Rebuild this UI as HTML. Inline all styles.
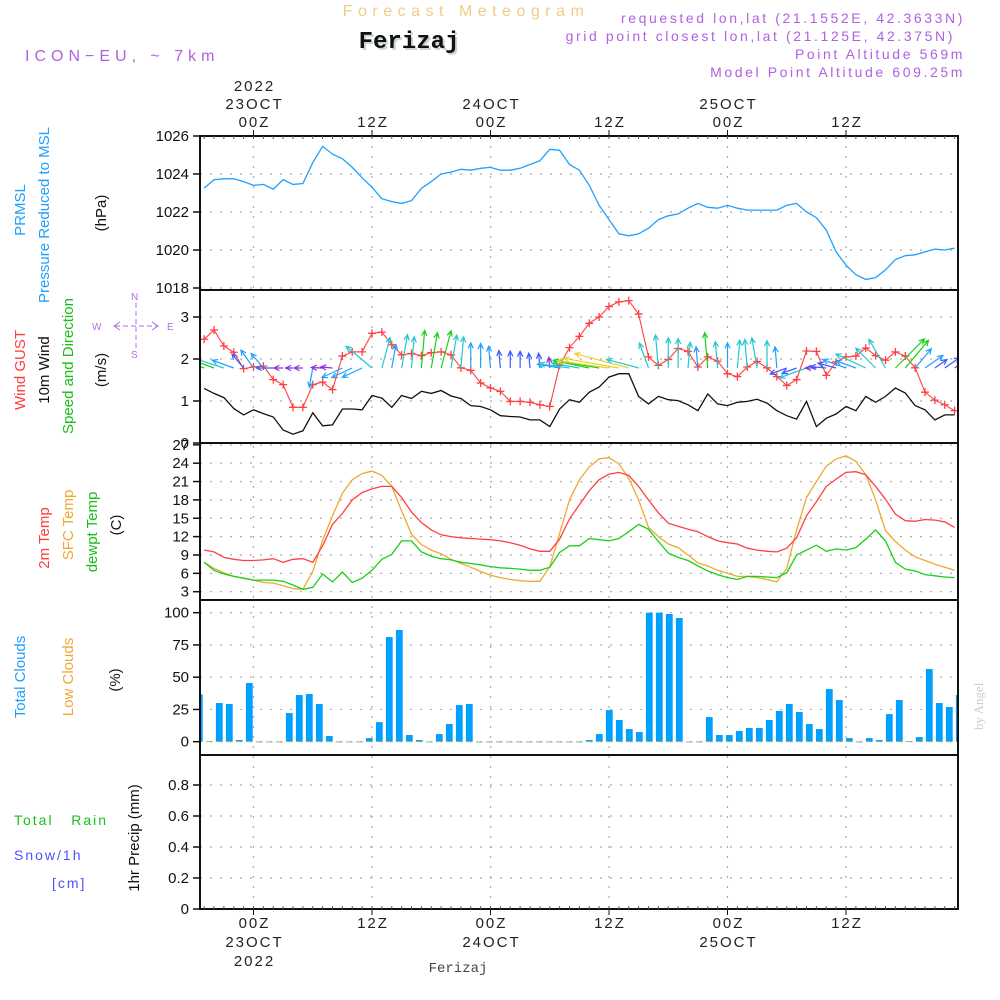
<!DOCTYPE html>
<html><head><meta charset="utf-8"><style>
html,body{margin:0;padding:0;background:#fff;width:1000px;height:1000px;overflow:hidden}
svg{display:block}
text{font-family:"Liberation Sans",sans-serif}
</style></head><body>
<svg id="chart" width="1000" height="1000" xmlns="http://www.w3.org/2000/svg">
<g id="static">
<text x="466" y="16" text-anchor="middle" font-size="16" fill="#f2cc86" letter-spacing="5.5">Forecast Meteogram</text>
<text x="411" y="50" text-anchor="middle" font-size="24" font-weight="bold" fill="#c8d8c8" style="font-family:'Liberation Mono',monospace">Ferizaj</text>
<text x="409" y="48" text-anchor="middle" font-size="24" font-weight="bold" fill="#111" style="font-family:'Liberation Mono',monospace">Ferizaj</text>
<text x="25" y="61" font-size="16" fill="#b060e0" letter-spacing="5">ICON−EU, ~ 7km</text>
<g font-size="14" fill="#b060e0" text-anchor="end" letter-spacing="2.6">
<text x="965" y="23">requested lon,lat (21.1552E, 42.3633N)</text>
<text x="955" y="41">grid point closest lon,lat (21.125E, 42.375N)</text>
<text x="965" y="59">Point Altitude 569m</text>
<text x="965" y="77">Model Point Altitude 609.25m</text>
</g>
<g font-size="15" transform="rotate(-90)">
<text x="-210" y="25" text-anchor="middle" fill="#1ea0ff">PRMSL</text>
<text x="-215" y="49" text-anchor="middle" fill="#1ea0ff">Pressure Reduced to MSL</text>
<text x="-213" y="106" text-anchor="middle" fill="#111">(hPa)</text>
<text x="-370" y="25" text-anchor="middle" fill="#ff3c3c">Wind GUST</text>
<text x="-370" y="49" text-anchor="middle" fill="#111">10m Wind</text>
<text x="-366" y="73" text-anchor="middle" fill="#18c018">Speed and Direction</text>
<text x="-370" y="106" text-anchor="middle" fill="#111">(m/s)</text>
<text x="-538" y="49" text-anchor="middle" fill="#ff3c3c">2m Temp</text>
<text x="-525" y="73" text-anchor="middle" fill="#f0a830">SFC Temp</text>
<text x="-532" y="97" text-anchor="middle" fill="#18c018">dewpt Temp</text>
<text x="-525" y="121" text-anchor="middle" fill="#111">(C)</text>
<text x="-677" y="25" text-anchor="middle" fill="#1ea0ff">Total Clouds</text>
<text x="-677" y="73" text-anchor="middle" fill="#f0a830">Low Clouds</text>
<text x="-680" y="120" text-anchor="middle" fill="#111">(%)</text>
<text x="-838" y="139" text-anchor="middle" fill="#111">1hr Precip (mm)</text>
</g>
<text x="14" y="825" font-size="14" fill="#18c018" letter-spacing="2" xml:space="preserve">Total   Rain</text>
<text x="14" y="860" font-size="14" fill="#5050ff" letter-spacing="2">Snow/1h</text>
<text x="52" y="888" font-size="14" fill="#5050ff" letter-spacing="2">[cm]</text>
<g fill="#b070e0" stroke="#b070e0" font-size="10">
<text x="92" y="330" stroke="none">W</text><text x="167" y="330" stroke="none">E</text>
<text x="131" y="300" stroke="none">N</text><text x="131" y="358" stroke="none">S</text>
<line x1="115" y1="326" x2="157" y2="326" stroke-dasharray="5,3"/>
<line x1="136" y1="303" x2="136" y2="348" stroke-dasharray="5,3"/>
<polyline points="120,322 114,326 120,330" fill="none"/><polyline points="152,322 158,326 152,330" fill="none"/>
</g>
<text transform="translate(983,730) rotate(-90)" font-size="13" fill="#ccc" style="font-family:'Liberation Serif',serif">by Angel</text>
<text x="458" y="972" text-anchor="middle" font-size="14" fill="#444" style="font-family:'Liberation Mono',monospace">Ferizaj</text>
</g>
<g id="dyn"></g>
</svg>
<script>
// ---- data ----
const hours = [-5,-4,-3,-2,-1,0,1,2,3,4,5,6,7,8,9,10,11,12,13,14,15,16,17,18,19,20,21,22,23,24,25,26,27,28,29,30,31,32,33,34,35,36,37,38,39,40,41,42,43,44,45,46,47,48,49,50,51,52,53,54,55,56,57,58,59,60,61,62,63,64,65,66,67,68,69,70,71];
const pressure = [1023.25,1023.7,1023.75,1023.75,1023.6,1023.4,1023.45,1023.2,1023.7,1023.45,1023.5,1024.6,1025.45,1025.05,1024.8,1024.35,1023.8,1023.3,1022.7,1022.55,1022.45,1022.6,1023.25,1023.6,1024.0,1024.1,1024.25,1024.2,1024.3,1024.35,1024.2,1024.2,1024.3,1024.5,1024.7,1025.3,1025.25,1024.5,1024.2,1023.4,1022.35,1021.6,1020.85,1020.75,1020.85,1021.15,1021.6,1021.8,1021.9,1022.2,1022.45,1022.25,1022.2,1022.35,1022.2,1022.1,1022.1,1022.1,1022.1,1022.35,1022.45,1022.0,1021.7,1021.05,1019.9,1019.2,1018.7,1018.45,1018.55,1018.95,1019.5,1019.7,1019.75,1019.9,1020.05,1020.0,1020.1];
const wind10m = [1.3,1.18,1.08,0.82,0.67,0.79,0.7,0.62,0.31,0.21,0.29,0.72,0.41,0.43,0.81,0.81,0.79,1.13,1.07,0.85,1.13,1.06,1.23,1.18,1.25,1.12,1.06,0.89,0.87,0.79,0.65,0.63,0.62,0.55,0.55,0.39,0.81,1.03,0.97,1.21,1.33,1.57,1.65,1.65,1.11,0.93,1.11,1.03,1.01,0.91,0.77,1.17,0.93,0.89,0.97,0.99,1.04,0.95,0.77,0.65,0.57,0.99,0.39,0.59,0.69,0.87,0.77,1.11,0.97,1.11,1.31,1.19,0.89,0.79,0.55,0.67,0.67];
const gust = [2.47,2.69,2.31,2.16,1.77,1.81,1.83,1.51,1.39,0.85,0.85,1.39,1.45,1.27,2.07,2.17,2.17,2.61,2.64,2.34,2.1,2.13,2.08,2.15,2.17,2.1,1.79,1.73,1.43,1.31,1.23,0.99,0.99,0.97,0.91,0.87,1.85,2.27,2.54,2.85,3.0,3.25,3.36,3.39,3.07,2.05,1.85,1.99,2.25,2.18,1.81,2.05,1.95,1.65,1.58,1.81,1.94,1.79,1.58,1.37,1.51,2.19,2.18,1.61,1.93,2.05,2.07,2.26,2.08,1.97,2.17,2.07,1.79,1.21,1.02,0.91,0.77];
const windDir = [160,160,162,160,130,125,130,180,180,180,180,260,178,175,205,205,205,140,75,80,80,85,85,80,75,80,85,90,90,95,95,90,90,95,95,95,170,172,170,168,170,172,170,165,165,110,95,90,90,85,95,95,95,90,85,95,100,90,95,200,200,200,180,175,165,160,160,155,135,120,45,50,50,35,35,35,35];
const temp2m = [9.8,9.5,8.6,8.3,8.1,8.1,8.2,8.4,7.8,8.3,8.4,7.8,10.5,14.0,15.8,18.0,19.2,19.8,20.2,20.2,18.4,16.0,14.3,13.1,12.3,12.0,11.8,11.7,11.6,11.5,11.3,11.0,10.6,10.0,9.6,9.6,11.6,14.9,17.2,19.5,21.3,22.2,22.5,22.0,20.2,18.0,15.9,14.2,13.7,13.2,12.8,12.0,11.3,11.0,10.8,10.1,9.8,9.6,9.5,10.1,11.8,15.4,17.7,20.2,21.4,22.5,22.6,22.1,20.2,18.1,15.7,14.6,14.5,14.8,14.7,14.4,13.5];
const tempSfc = [7.8,6.8,6.1,5.5,5.2,4.9,4.5,4.4,4.0,3.5,3.4,6.3,11.4,15.4,19.1,21.3,22.3,22.7,22.0,20.2,16.2,12.4,10.7,9.8,9.2,8.3,7.6,7.0,6.3,5.7,5.3,5.0,4.8,4.7,4.7,7.1,12.5,18.0,21.3,23.4,24.7,24.9,23.9,21.5,18.0,13.5,12.0,10.8,10.2,9.0,7.7,7.2,6.5,6.0,5.5,5.5,5.3,5.0,4.6,6.8,13.1,18.4,21.0,23.5,24.7,25.2,24.3,22.1,18.0,13.0,11.2,9.8,8.7,8.1,7.5,7.0,6.5];
const dewpt = [7.8,6.5,5.9,5.5,5.2,4.9,4.9,4.9,4.7,4.1,3.4,3.7,5.9,4.6,6.2,4.5,5.2,6.5,8.3,9.1,11.3,11.3,9.5,8.8,8.4,8.2,7.8,7.6,7.4,7.1,6.9,6.8,6.7,6.5,6.5,7.0,9.4,10.5,10.5,11.7,11.5,11.3,11.7,12.8,14.0,13.2,11.2,9.3,8.6,8.1,7.2,6.4,5.8,5.3,5.0,5.5,5.5,5.4,5.3,6.1,9.0,9.8,10.6,9.6,10.0,9.8,10.2,11.6,13.1,11.3,7.8,6.7,6.4,5.8,5.6,5.4,5.3];
const totalClouds = [36.7,0.3,30,29.2,1.3,45.5,0,0,0,22.2,36.2,37,29.2,4.4,0,0,0,2.8,15.2,81.1,86.6,5.2,1.3,0,5.9,13.7,28.4,29.2,0,0,0,0,0,0,0,0,0,0,0,1.3,5.9,24.5,16.8,9.8,7.5,100,100,99,95.9,0,0,19.1,5.2,5.2,8.3,10.6,10.6,16.8,23.8,29.2,23,13.7,9.8,40.8,32.3,2.8,0,2.8,1.3,21.4,32.3,0.5,3.6,56.3,30,26.9,36.2];
const lowClouds = [36.7,0,0,0,0,0,0,0,0,0,0,0,0,0,0,0,0,0,0,0,0,0,0,0,0,0,0,0,0,0,0,0,0,0,0,0,0,0,0,0,0,0,0,0,0,0,0,0,0,0,0,0,0,0,0,0,0,0,0,0,0,0,0,0,0,0,0,0,0,0,0,0,0,0,0,0,0];
const precip = [];
const pTicks = [1018,1020,1022,1024,1026];
const wTicks = [0,1,2,3];
const tTicks = [3,6,9,12,15,18,21,24,27];
const cTicks = [0,25,50,75,100];
const rTicks = [0,0.2,0.4,0.6,0.8];
const timeTicks = [0,12,24,36,48,60];
const topLabels = [["2022","23OCT","00Z"],["","","12Z"],["","24OCT","00Z"],["","","12Z"],["","25OCT","00Z"],["","","12Z"]];
const botLabels = [["00Z","23OCT","2022"],["12Z","",""],["00Z","24OCT",""],["12Z","",""],["00Z","25OCT",""],["12Z","",""]];

// ---- scales ----
const L=200,R=958;
const xH = h => 253.5 + h*9.875;
const xBar = k => 199.3 + k*10;
const yP = v => 136 + (1026-v)*19;
const yW = v => 443 - v*42;
const yT = v => 591.7 - (v-3)*6.12;
const yC = v => 741.7 - v*1.29;
const yR = v => 909 - v*155;
const panels = [[136,290],[290,443],[443,600],[600,755],[755,909]];

const NS="http://www.w3.org/2000/svg";
const dyn=document.getElementById('dyn');
function mk(tag,attrs,parent){const e=document.createElementNS(NS,tag);for(const k in attrs)e.setAttribute(k,attrs[k]);(parent||dyn).appendChild(e);return e;}

const defs=mk('defs',{});
const cp=mk('clipPath',{id:'plotclip'},defs);
mk('rect',{x:L,y:136,width:R-L,height:773},cp);

const grid=mk('g',{stroke:'#aaa','stroke-width':1.2,'stroke-dasharray':'2,8'});


timeTicks.forEach(h=>{mk('line',{x1:xH(h),y1:136,x2:xH(h),y2:909},grid);});
function hgrid(ticks,f){ticks.forEach(v=>{mk('line',{x1:L,y1:f(v),x2:R,y2:f(v)},grid);});}
hgrid(pTicks,yP);hgrid(wTicks,yW);hgrid(tTicks,yT);hgrid(cTicks,yC);hgrid(rTicks,yR);

function yLabels(ticks,f,name,fmt){
  const g=mk('g',{'font-size':15,fill:'#111','text-anchor':'end'});
  
  
  ticks.forEach(v=>{const t=mk('text',{x:189,y:f(v)+5},g);t.textContent=fmt?fmt(v):v;
    mk('line',{x1:193,y1:f(v),x2:L,y2:f(v),stroke:'#111','stroke-width':1.5},g);});
}
yLabels(pTicks,yP,'pressure-y-axis');yLabels(wTicks,yW,'wind-y-axis');yLabels(tTicks,yT,'temp-y-axis');
yLabels(cTicks,yC,'cloud-y-axis');yLabels(rTicks,yR,'precip-y-axis',v=>v===0?'0':v.toFixed(1));

const cg=mk('g',{'clip-path':'url(#plotclip)'});


totalClouds.forEach((v,k)=>{
  const r=mk('rect',{x:xBar(k)-3.4,y:yC(v),width:6.8,height:Math.max(0.6,yC(0)-yC(v)),fill:'#00a0ff'},cg);
  
  
});
lowClouds.forEach((v,k)=>{
  const r=mk('rect',{x:xBar(k)-3.4,y:yC(v)-0.5,width:v>0?2:6.8,height:Math.max(1,yC(0)-yC(v)),fill:'#f0b040',opacity:v>0?1:0.6},cg);
  
  
});

function line(vals,f,color,name,w){
  const p=mk('polyline',{points:vals.map((v,i)=>xH(hours[i]).toFixed(1)+','+f(v).toFixed(1)).join(' '),fill:'none',stroke:color,'stroke-width':w||1.3,'clip-path':'url(#plotclip)'});
  
  
}
line(pressure,yP,'#1ea0ff','pressure-line');
line(wind10m,yW,'#111','wind-10m-line');
line(gust,yW,'#ff4040','gust-line',1.1);
const gm=mk('g',{stroke:'#ff4040','stroke-width':1.3});


gust.forEach((v,i)=>{const x=xH(hours[i]),y=yW(v);
  mk('path',{d:`M${x-4},${y}h8M${x},${y-4}v8`},gm);});
line(tempSfc,yT,'#f0a830','sfc-temp-line');
line(temp2m,yT,'#ff4040','temp-2m-line');
line(dewpt,yT,'#18d018','dewpt-line');

function wcol(s){return s<0.5?'#8a2be2':s<0.7?'#3a5cff':s<0.9?'#1ea0ff':s<1.15?'#20c8d0':s<1.45?'#18d018':'#e8d030';}
const ag=mk('g',{'stroke-width':1.2,fill:'none','clip-path':'url(#plotclip)'});


wind10m.forEach((s,i)=>{
  const x=xH(hours[i]),y=368,len=24*Math.pow(s,1.5)+5,a=windDir[i]*Math.PI/180;
  const x2=x+len*Math.cos(a),y2=y-len*Math.sin(a);
  const c=wcol(s);
  const b1=a+Math.PI-0.45,b2=a+Math.PI+0.45;
  mk('path',{d:`M${x},${y}L${x2},${y2}M${x2+6*Math.cos(b1)},${y2-6*Math.sin(b1)}L${x2},${y2}L${x2+6*Math.cos(b2)},${y2-6*Math.sin(b2)}`,stroke:c},ag);
});

const fg=mk('g',{stroke:'#111',fill:'none'});


panels.forEach(p=>{mk('rect',{x:L,y:p[0],width:R-L,height:p[1]-p[0],'stroke-width':2},fg);});
for(let h=-5;h<=71;h++){mk('line',{x1:xH(h),y1:136,x2:xH(h),y2:139,'stroke-width':1,stroke:'#555'},fg);mk('line',{x1:xH(h),y1:906,x2:xH(h),y2:909,'stroke-width':1,stroke:'#555'},fg);}

const tl=mk('g',{'font-size':15,fill:'#222','text-anchor':'middle','letter-spacing':2});


timeTicks.forEach((h,j)=>{
  const x=xH(h);
  mk('line',{x1:x,y1:130,x2:x,y2:136,stroke:'#111'},tl);
  mk('line',{x1:x,y1:909,x2:x,y2:915,stroke:'#111'},tl);
  topLabels[j].forEach((s,r)=>{if(s){const t=mk('text',{x:x+1,y:91+r*18},tl);t.textContent=s;}});
  botLabels[j].forEach((s,r)=>{if(s){const t=mk('text',{x:x+1,y:928+r*19},tl);t.textContent=s;}});
});
</script>
</body></html>
